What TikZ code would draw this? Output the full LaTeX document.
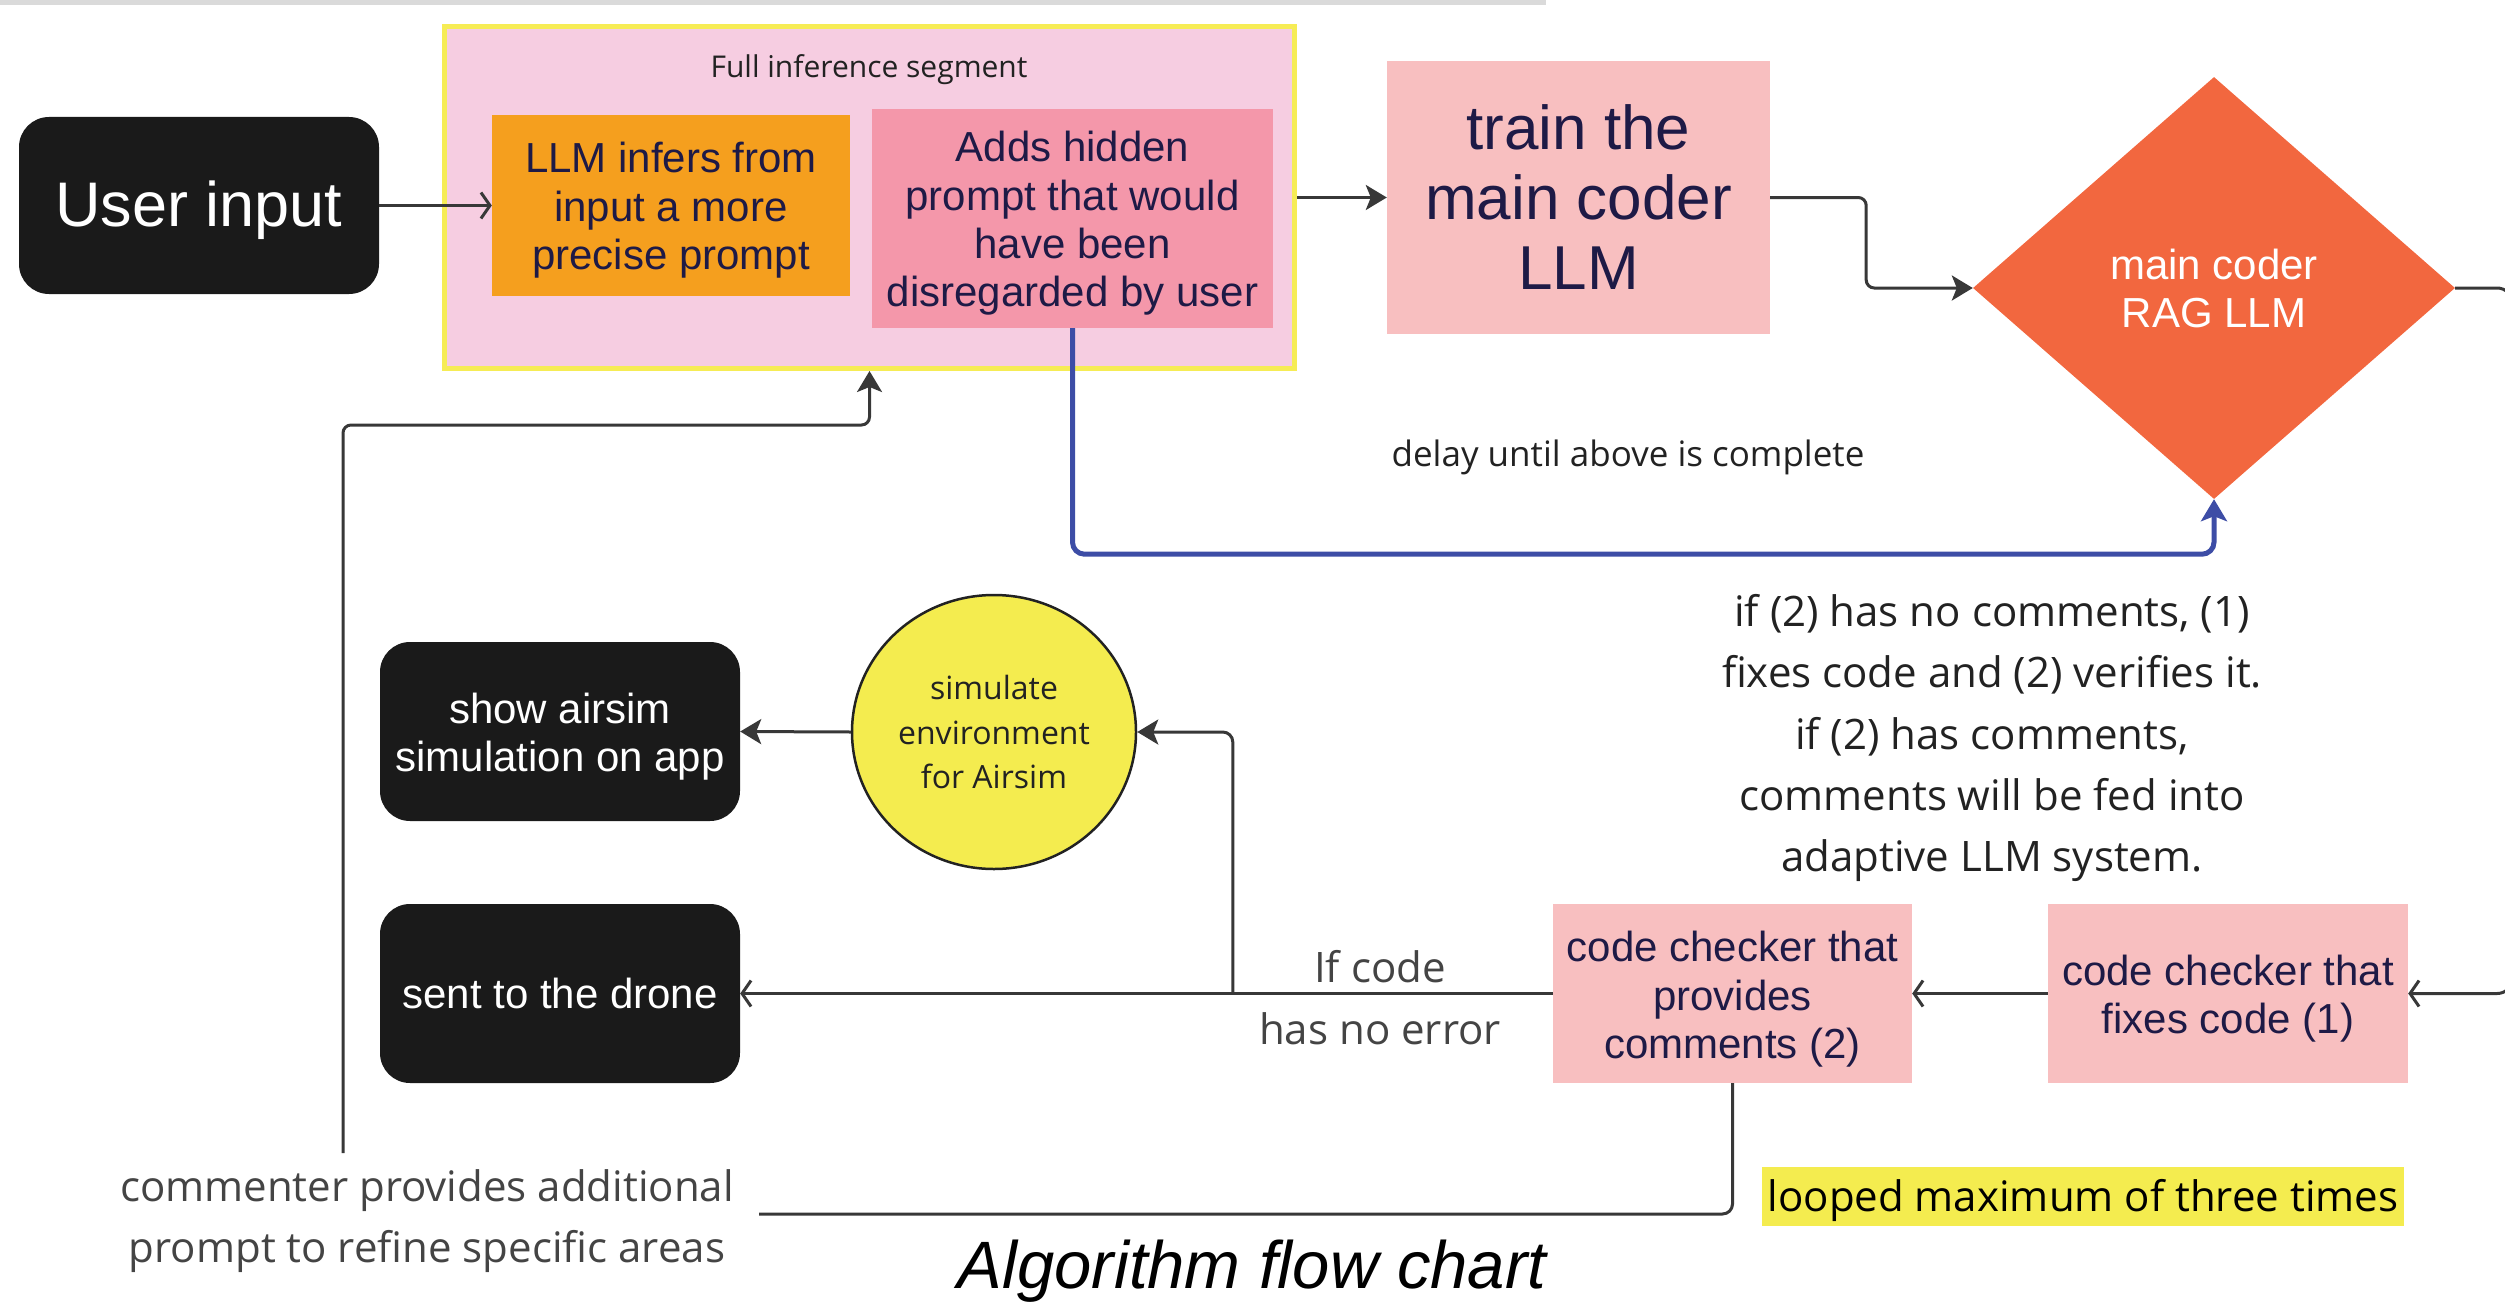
\documentclass[tikz,border=0pt]{standalone}
\usepackage{fontspec}
\setmainfont{Liberation Sans}
\newfontfamily\osans{Open Sans}
\usetikzlibrary{shapes.geometric,arrows.meta,calc}
\definecolor{topgray}{HTML}{DADADA}
\definecolor{segfill}{HTML}{F6CDE1}
\definecolor{segborder}{HTML}{F6EC55}
\definecolor{orangefill}{HTML}{F59F1E}
\definecolor{hpink}{HTML}{F497AA}
\definecolor{salmon}{HTML}{F8BFC0}
\definecolor{ragc}{HTML}{F2673F}
\definecolor{yel}{HTML}{F4EC4F}
\definecolor{blackfill}{HTML}{1A1A1A}
\definecolor{navy}{HTML}{1E1A46}
\definecolor{bluec}{HTML}{3D4DA6}
\definecolor{linec}{HTML}{383838}
\definecolor{notec}{HTML}{222222}
\definecolor{softc}{HTML}{444444}
\tikzset{
  box/.style={rectangle, inner sep=0pt, align=center, text=navy,
    font=\fontsize{42}{48.4}\selectfont},
  boxtext/.style={inner sep=0pt, align=center, text=navy,
    font=\fontsize{42}{48.4}\selectfont},
  blackbox/.style={rectangle, rounded corners=30pt, fill=blackfill, text=white,
    align=center, inner sep=0pt, minimum width=360pt, minimum height=179pt,
    font=\fontsize{42}{48}\selectfont},
  whitetext/.style={inner sep=0pt, align=center, text=white,
    font=\fontsize{42}{48}\selectfont},
  conn/.style={draw=linec, line width=3pt},
  fillarrow/.style={-{Stealth[length=21pt,width=25pt,inset=5pt]}},
  openarrow/.style={-{Straight Barb[length=9pt,width=26pt]}},
  note/.style={align=center, inner sep=0pt, text=notec},
}
\begin{document}
\begin{tikzpicture}[x=1pt,y=-1pt]
\useasboundingbox (0,0) rectangle (2505,1303);
\fill[topgray] (0,0) rectangle (1546,5);

% top row
\node[blackbox, minimum height=177pt] (user) at (199,205.5) {};
\node[whitetext, font=\fontsize{63}{70}\selectfont] (usert) at ($(user)+(0,5)$) {User input};
\node[rectangle, fill=segfill, draw=segborder, line width=5pt, minimum width=850pt,
  minimum height=342pt, inner sep=0pt] (seg) at (869.5,197.5) {};
\node[note, font=\osans\fontsize{30}{36}\selectfont] (segtitle) at (869,70) {Full inference segment};
\node[box, fill=orangefill, minimum width=358pt, minimum height=181pt] (llm) at (671,205.5) {};
\node[boxtext] (llmt) at ($(llm)+(0,5)$) {LLM infers from\\input a more\\precise prompt};
\node[box, fill=hpink, minimum width=401pt, minimum height=219pt] (hidden) at (1072.5,218.5) {};
\node[boxtext] (hiddent) at ($(hidden)+(0,5)$) {Adds hidden\\prompt that would\\have been\\disregarded by user};
\node[box, fill=salmon, minimum width=383pt, minimum height=273pt,
  font=\fontsize{62}{70}\selectfont] (train) at (1578.5,197.5) {train the\\main coder\\LLM};
\node[diamond, fill=ragc, minimum width=482pt, minimum height=422pt, inner sep=0pt,
  text=white, align=center, font=\fontsize{42}{48}\selectfont] (rag) at (2214,288)
  {main coder\\RAG LLM};

\draw[conn, openarrow] (user.east) -- (llm.west);
\draw[conn, fillarrow] (seg.east) -- (train.west);
\draw[conn, fillarrow, rounded corners=8pt] (train.east) -- ++(96,0) |- (rag.west);
\draw[draw=bluec, line width=5pt, rounded corners=12pt, -{Stealth[length=22pt,width=26pt,inset=5pt]}]
  (hidden.south) |- ($(rag.south)+(0,55)$) -- (rag.south);
\node[note, font=\osans\fontsize{35}{42}\selectfont] (delay) at (1628,457) {delay until above is complete};

\coordinate (cmtop) at (343,1153);
\draw[conn, fillarrow, rounded corners=8pt] (cmtop) |- ($(seg.south)+(0,54)$) -- (seg.south);

% lower section
\node[blackbox] (show) at (560,731.5) {};
\node[whitetext] (showt) at ($(show)+(0,5)$) {show airsim\\simulation on app};
\node[blackbox] (drone) at (560,993.5) {sent to the drone};
\node[ellipse, fill=yel, draw=notec, line width=2.5pt, minimum width=284pt, minimum height=274pt,
  inner sep=0pt, align=center, text=notec, font=\osans\fontsize{32}{44.7}\selectfont] (sim) at (994,732)
  {simulate\\environment\\for Airsim};
\node[box, fill=salmon, minimum width=359pt, minimum height=179pt] (cc2) at (1732.5,993.5) {};
\node[boxtext] (cc2t) at ($(cc2)+(0,6)$) {code checker that\\provides\\comments (2)};
\node[box, fill=salmon, minimum width=360pt, minimum height=179pt] (cc1) at (2228,993.5) {};
\node[boxtext] (cc1t) at ($(cc1)+(0,5)$) {code checker that\\fixes code (1)};

\draw[conn, fillarrow] (sim.west) -- (show.east);
\draw[conn, openarrow] (cc2.west) -- (drone.east);
\draw[conn, fillarrow, rounded corners=10pt] ($(cc2.west)+(-320,0)$) |- (sim.east);
\draw[conn, openarrow] (cc1.west) -- (cc2.east);
\draw[conn, openarrow, rounded corners=15pt] (rag.east) -- ++(57,0) |- (cc1.east);
\coordinate (cmend) at (759,1214);
\draw[conn, rounded corners=10pt] (cc2.south) |- (cmend);

\node[note, text=softc, font=\osans\fontsize{42}{62}\selectfont] (ifcode) at (1380,998) {If code\\has no error};
\node[note, font=\osans\fontsize{42}{61.2}\selectfont] (expl) at (1992,738)
  {if (2) has no comments, (1)\\fixes code and (2) verifies it.\\if (2) has comments,\\comments will be fed into\\adaptive LLM system.};
\node[note, text=softc, font=\osans\fontsize{42}{61}\selectfont] (cmt) at (427,1221.5)
  {commenter provides additional\\prompt to refine specific areas};
\node[note, fill=yel, minimum width=642pt, minimum height=59pt, text=black,
  font=\osans\fontsize{42}{50}\selectfont] (loop) at (2083,1196) {};
\node[note, text=black, font=\osans\fontsize{42}{50}\selectfont] (loopt) at ($(loop)+(0,4)$) {looped maximum of three times};
\node[note, text=black, font=\itshape\fontsize{67}{75}\selectfont] (title) at (1252,1271) {Algorithm flow chart};
\end{tikzpicture}
\end{document}
